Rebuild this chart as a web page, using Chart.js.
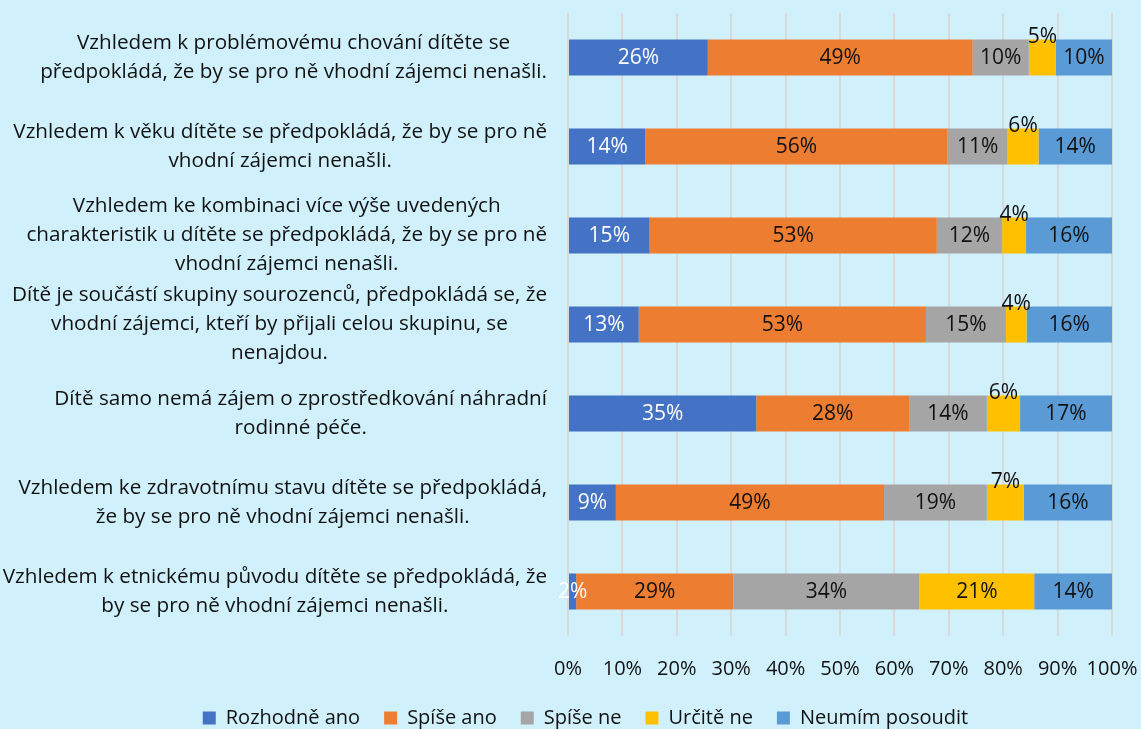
<!DOCTYPE html>
<html>
<head>
<meta charset="utf-8">
<script src="https://cdn.jsdelivr.net/npm/chart.js@4.4.1/dist/chart.umd.min.js"></script>
<style>
  html, body { margin: 0; padding: 0; background: #D0F1FC; }
  #wrap { width: 1141px; height: 729px; position: relative; }
  canvas { display: block; }
</style>
</head>
<body>
<div id="wrap"><canvas id="c" width="1141" height="729"></canvas></div>
<script>
const categories = [
  ["Vzhledem k problémovému chování dítěte se", "předpokládá, že by se pro ně vhodní zájemci nenašli."],
  ["Vzhledem k věku dítěte se předpokládá, že by se pro ně", "vhodní zájemci nenašli."],
  ["Vzhledem ke kombinaci více výše uvedených", "charakteristik u dítěte se předpokládá, že by se pro ně", "vhodní zájemci nenašli."],
  ["Dítě je součástí skupiny sourozenců, předpokládá se, že", "vhodní zájemci, kteří by přijali celou skupinu, se", "nenajdou."],
  ["Dítě samo nemá zájem o zprostředkování náhradní", "rodinné péče."],
  ["Vzhledem ke zdravotnímu stavu dítěte se předpokládá,", "že by se pro ně vhodní zájemci nenašli."],
  ["Vzhledem k etnickému původu dítěte se předpokládá, že", "by se pro ně vhodní zájemci nenašli."]
];
const seriesNames = ["Rozhodně ano", "Spíše ano", "Spíše ne", "Určitě ne", "Neumím posoudit"];
const rozhodneAno    = [25.7, 14.2, 15.0, 13.0, 34.6,  8.8,  1.5];
const spiseAno       = [48.7, 55.6, 52.8, 52.8, 28.1, 49.3, 28.9];
const spiseNe        = [10.3, 11.0, 12.0, 14.7, 14.3, 18.9, 34.2];
const urciteNe       = [ 5.0,  5.7,  4.4,  3.8,  6.1,  6.8, 21.1];
const neumimPosoudit = [10.3, 13.5, 15.8, 15.7, 16.9, 16.2, 14.3];
const xTicks = [0,10,20,30,40,50,60,70,80,90,100];

const colors = ["#4472C4", "#ED7D31", "#A5A5A5", "#FFC000", "#5B9BD5"];
const labelColors = ["#FFFFFF", "#111111", "#111111", "#111111", "#111111"];
const FONT = "'Open Sans', 'Noto Sans', sans-serif";

const seriesData = [rozhodneAno, spiseAno, spiseNe, urciteNe, neumimPosoudit];

const bgPlugin = {
  id: 'bg',
  beforeDraw(chart) {
    const ctx = chart.ctx;
    ctx.save();
    ctx.fillStyle = '#D0F1FC';
    ctx.fillRect(0, 0, chart.width, chart.height);
    ctx.restore();
  }
};

const yLabelPlugin = {
  id: 'ylabels',
  afterDraw(chart) {
    const ctx = chart.ctx;
    const y = chart.scales.y;
    ctx.save();
    ctx.font = "20.7px " + FONT;
    ctx.fillStyle = '#111111';
    ctx.textBaseline = 'middle';
    ctx.textAlign = 'center';
    const right = 547;
    const lh = 29;
    categories.forEach((lines, i) => {
      const cy = y.getPixelForValue(i);
      const w = Math.max(...lines.map(l => ctx.measureText(l).width));
      const cx = right - w / 2;
      const y0 = cy - (lines.length - 1) * lh / 2;
      lines.forEach((l, k) => ctx.fillText(l, cx, y0 + k * lh));
    });
    ctx.restore();
  }
};

const valueLabelPlugin = {
  id: 'vlabels',
  afterDatasetsDraw(chart) {
    const ctx = chart.ctx;
    ctx.save();
    ctx.font = "21px " + FONT;
    ctx.textAlign = 'center';
    ctx.textBaseline = 'middle';
    chart.data.datasets.forEach((ds, di) => {
      const meta = chart.getDatasetMeta(di);
      meta.data.forEach((bar, i) => {
        const v = ds.data[i];
        const txt = Math.round(v) + '%';
        const cx = (bar.x + bar.base) / 2;
        if (di === 3 && v < 10) {
          ctx.fillStyle = '#111111';
          ctx.fillText(txt, cx, bar.y - bar.height / 2 - 2);
        } else {
          ctx.fillStyle = labelColors[di];
          ctx.fillText(txt, cx, bar.y + 1);
        }
      });
    });
    ctx.restore();
  }
};

new Chart(document.getElementById('c'), {
  type: 'bar',
  data: {
    labels: categories.map(c => c.join(' ')),
    datasets: seriesNames.map((n, i) => ({
      label: n,
      data: seriesData[i],
      backgroundColor: colors[i],
      borderWidth: 0,
      barPercentage: 0.405,
      categoryPercentage: 1.0
    }))
  },
  options: {
    indexAxis: 'y',
    responsive: false,
    animation: false,
    layout: { padding: { top: 13, right: 0, bottom: -9, left: 30 } },
    scales: {
      x: {
        stacked: true,
        min: 0, max: 100,
        afterBuildTicks(s) { s.ticks = xTicks.map(v => ({ value: v })); },
        afterFit(s) { s.height = 48; s.paddingLeft = 0; s.paddingRight = 29; },
        grid: { color: '#D9D9D9', lineWidth: 2, drawTicks: false },
        border: { display: false },
        ticks: {
          padding: 21,
          color: '#111111',
          font: { family: FONT, size: 20 },
          callback: v => v + '%',
          maxRotation: 0
        }
      },
      y: {
        stacked: true,
        afterFit(s) { s.width = 538; s.paddingTop = 0; s.paddingBottom = 0; },
        grid: { display: false, drawTicks: false },
        border: { display: false },
        ticks: { display: false }
      }
    },
    plugins: {
      legend: {
        position: 'bottom',
        labels: {
          boxWidth: 13, boxHeight: 13,
          padding: 24,
          color: '#111111',
          font: { family: FONT, size: 20 }
        }
      },
      tooltip: { enabled: false }
    }
  },
  plugins: [bgPlugin, yLabelPlugin, valueLabelPlugin]
});
</script>
</body>
</html>
